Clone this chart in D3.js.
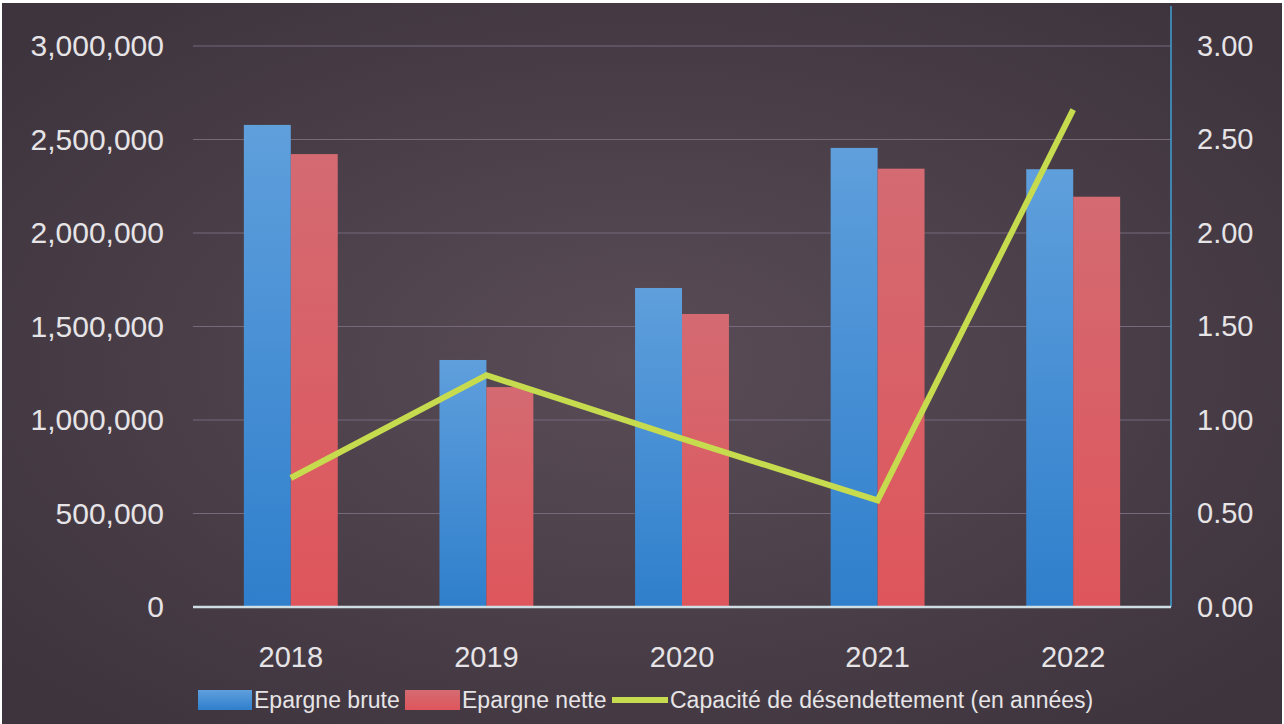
<!DOCTYPE html>
<meta charset="utf-8">
<script src="https://d3js.org/d3.v7.min.js"></script>
<style>
  body { margin: 0; background: #fff; }
  svg text { font-family: "Liberation Sans", Arial, sans-serif; }
</style>
<div id="my_dataviz"></div>
<script>

// Data
var years = ["2018", "2019", "2020", "2021", "2022"];
var epargneBrute = [2578000, 1321000, 1706000, 2455000, 2341000];
var epargneNette = [2422000, 1176000, 1567000, 2344000, 2194000];
var capacite = [0.69, 1.24, 0.90, 0.57, 2.66];
var leftTicks = [0, 500000, 1000000, 1500000, 2000000, 2500000, 3000000];
var rightTicks = [0, 0.5, 1, 1.5, 2, 2.5, 3];
var seriesNames = ["Epargne brute", "Epargne nette", "Capacité de désendettement (en années)"];

var W = 1284, H = 724;
var margin = {top: 46, right: 113, bottom: 117, left: 193},
    width = W - margin.left - margin.right,
    height = H - margin.top - margin.bottom;

var svg = d3.select("#my_dataviz")
  .append("svg")
  .attr("width", W)
  .attr("height", H);

var defs = svg.append("defs");

// dark background, a bit lighter in the middle
var bg = defs.append("radialGradient").attr("id", "bg")
  .attr("cx", "50%").attr("cy", "50%").attr("r", "65%");
bg.append("stop").attr("offset", "0%").attr("stop-color", "#594c57");
bg.append("stop").attr("offset", "100%").attr("stop-color", "#3e343d");

var gBlue = defs.append("linearGradient").attr("id", "gBlue")
  .attr("x1", 0).attr("y1", 0).attr("x2", 0).attr("y2", 1);
gBlue.append("stop").attr("offset", "0%").attr("stop-color", "#5f9fdc");
gBlue.append("stop").attr("offset", "100%").attr("stop-color", "#2f7fcc");

var gRed = defs.append("linearGradient").attr("id", "gRed")
  .attr("x1", 0).attr("y1", 0).attr("x2", 0).attr("y2", 1);
gRed.append("stop").attr("offset", "0%").attr("stop-color", "#d46a72");
gRed.append("stop").attr("offset", "100%").attr("stop-color", "#de565b");

svg.append("rect")
  .attr("x", 2).attr("y", 3)
  .attr("width", W - 4).attr("height", H - 3)
  .attr("fill", "url(#bg)");

var g = svg.append("g")
  .attr("transform", "translate(" + margin.left + "," + margin.top + ")");

// scales
var x = d3.scaleBand().domain(years).range([0, width]).padding(0);
var y = d3.scaleLinear().domain([0, 3000000]).range([height, 0]);
var y2 = d3.scaleLinear().domain([0, 3]).range([height, 0]);
var barW = x.bandwidth() * 0.24;

// gridlines
g.selectAll(".grid")
  .data(leftTicks.slice(1))
  .enter().append("line")
  .attr("x1", 0).attr("x2", width)
  .attr("y1", function(d) { return y(d); })
  .attr("y2", function(d) { return y(d); })
  .attr("stroke", "#75697a")
  .attr("stroke-width", 1.2);

// left axis
var axL = g.append("g")
  .call(d3.axisLeft(y).tickValues(leftTicks).tickFormat(d3.format(",")).tickSize(0).tickPadding(29));
axL.select(".domain").remove();
axL.selectAll("text").style("font-size", "30px").attr("fill", "#e6e4e6");

// right axis
var axR = g.append("g")
  .attr("transform", "translate(" + width + ",0)")
  .call(d3.axisRight(y2).tickValues(rightTicks).tickFormat(d3.format(".2f")).tickSize(0).tickPadding(26));
axR.select(".domain").remove();
axR.selectAll("text").style("font-size", "29px").attr("fill", "#e6e4e6");

// bottom axis
var axB = g.append("g")
  .attr("transform", "translate(0," + height + ")")
  .call(d3.axisBottom(x).tickSize(0).tickPadding(39));
axB.select(".domain").remove();
axB.selectAll("text").style("font-size", "29px").attr("fill", "#e6e4e6");

// bars
g.selectAll(".brute")
  .data(years)
  .enter().append("rect")
  .attr("x", function(d) { return x(d) + x.bandwidth() / 2 - barW; })
  .attr("y", function(d, i) { return y(epargneBrute[i]); })
  .attr("width", barW)
  .attr("height", function(d, i) { return height - y(epargneBrute[i]); })
  .attr("fill", "url(#gBlue)");

g.selectAll(".nette")
  .data(years)
  .enter().append("rect")
  .attr("x", function(d) { return x(d) + x.bandwidth() / 2; })
  .attr("y", function(d, i) { return y(epargneNette[i]); })
  .attr("width", barW)
  .attr("height", function(d, i) { return height - y(epargneNette[i]); })
  .attr("fill", "url(#gRed)");

// right axis line and bottom axis line
g.append("line")
  .attr("x1", width).attr("x2", width)
  .attr("y1", -40).attr("y2", height)
  .attr("stroke", "#3f9fd6").attr("stroke-width", 1.5);
g.append("line")
  .attr("x1", 0).attr("x2", width)
  .attr("y1", height).attr("y2", height)
  .attr("stroke", "#cfdde4").attr("stroke-width", 2.5);

// line
var line = d3.line()
  .x(function(d, i) { return x(years[i]) + x.bandwidth() / 2; })
  .y(function(d) { return y2(d); });
g.append("path")
  .datum(capacite)
  .attr("d", line)
  .attr("fill", "none")
  .attr("stroke", "#c6dc4e")
  .attr("stroke-width", 6);

// legend
var legend = svg.append("g").attr("transform", "translate(198,700)");
var legItems = [
  {x: 0, w: 54, name: seriesNames[0], fill: "url(#gBlue)", type: "rect"},
  {x: 207, w: 55, name: seriesNames[1], fill: "url(#gRed)", type: "rect"},
  {x: 414, w: 56, name: seriesNames[2], fill: "#c6dc4e", type: "line"}
];
legItems.forEach(function(it) {
  if (it.type === "rect") {
    legend.append("rect").attr("x", it.x).attr("y", -10).attr("width", it.w).attr("height", 20).attr("fill", it.fill);
  } else {
    legend.append("rect").attr("x", it.x).attr("y", -3).attr("width", it.w).attr("height", 6).attr("fill", it.fill);
  }
  legend.append("text")
    .attr("x", it.x + it.w + 2)
    .attr("y", 0)
    .attr("dy", "0.35em")
    .style("font-size", "23px")
    .attr("fill", "#e6e4e6")
    .text(it.name);
});

</script>
